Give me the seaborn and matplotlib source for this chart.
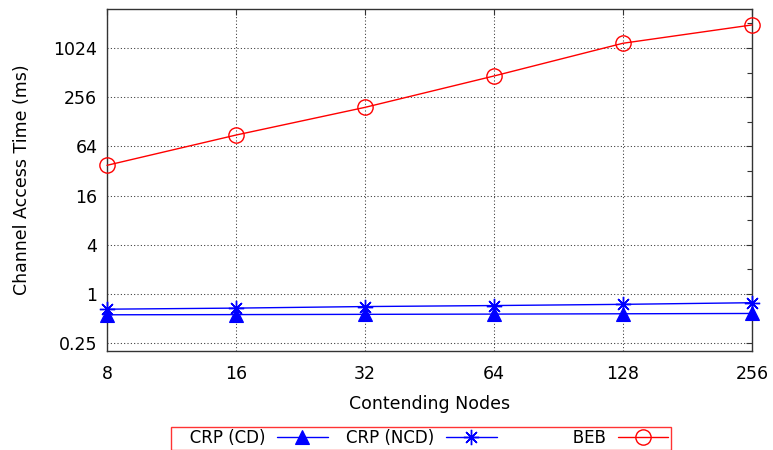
import numpy as np
import pandas as pd
import matplotlib
matplotlib.use("Agg")
import matplotlib.pyplot as plt
import seaborn as sns
from matplotlib.ticker import FixedLocator, FixedFormatter, NullFormatter

# ---- data ----
nodes = [8, 16, 32, 64, 128, 256]
crp_cd = [0.555, 0.558, 0.562, 0.566, 0.571, 0.576]
crp_ncd = [0.65, 0.67, 0.70, 0.72, 0.745, 0.78]
beb = [37.5, 88, 192, 465, 1170, 1960]

x_ticks = [8, 16, 32, 64, 128, 256]
x_tick_labels = ["8", "16", "32", "64", "128", "256"]
y_ticks = [0.25, 1, 4, 16, 64, 256, 1024]
y_tick_labels = ["0.25", "1", "4", "16", "64", "256", "1024"]
y_minor = [0.5, 2, 8, 32, 128, 512, 2048]

series_names = ["CRP (CD)", "CRP (NCD)", "BEB"]
legend_labels = ["   CRP (CD)", "CRP (NCD)", "           BEB"]

df = pd.DataFrame({
    "nodes": nodes * 3,
    "time": crp_cd + crp_ncd + beb,
    "series": [series_names[0]] * len(nodes) + [series_names[1]] * len(nodes) + [series_names[2]] * len(nodes),
})

sns.set_style("white")
plt.rcParams["font.family"] = ["DejaVu Sans"]
plt.rcParams["text.color"] = "black"
plt.rcParams["axes.labelcolor"] = "black"

fig = plt.figure(figsize=(7.73, 4.5), dpi=100)
ax = fig.add_axes([107 / 773, 1 - 351 / 450, (752 - 107) / 773, (351 - 9) / 450])

styles = {
    "CRP (CD)": dict(color="#0000ff", marker="^", markersize=10, markeredgewidth=0.8,
                     markerfacecolor="#0000ff", markeredgecolor="#0000ff"),
    "CRP (NCD)": dict(color="#0000ff", marker=(8, 2, 0), markersize=11, markeredgewidth=1.0,
                      markerfacecolor="#0000ff", markeredgecolor="#0000ff"),
    "BEB": dict(color="#ff0000", marker="o", markersize=11, markeredgewidth=1.0,
                markerfacecolor="none", markeredgecolor="#ff0000"),
}

handles = []
for name in series_names:
    sub = df[df["series"] == name]
    st = styles[name]
    sns.lineplot(data=sub, x="nodes", y="time", ax=ax, legend=False,
                 color=st["color"], linewidth=1.0, marker=st["marker"],
                 markersize=st["markersize"], markeredgewidth=st["markeredgewidth"],
                 markerfacecolor=st["markerfacecolor"], markeredgecolor=st["markeredgecolor"],
                 clip_on=False, zorder=3)
    handles.append(ax.lines[-1])

ax.set_xscale("log", base=2)
ax.set_yscale("log", base=2)
ax.set_xlim(8, 256)
ax.set_ylim(0.2, 3072)

ax.xaxis.set_major_locator(FixedLocator(x_ticks))
ax.xaxis.set_major_formatter(FixedFormatter(x_tick_labels))
ax.xaxis.set_minor_locator(FixedLocator([]))
ax.yaxis.set_major_locator(FixedLocator(y_ticks))
ax.yaxis.set_major_formatter(FixedFormatter(y_tick_labels))
ax.yaxis.set_minor_locator(FixedLocator(y_minor))
ax.yaxis.set_minor_formatter(NullFormatter())

ax.tick_params(axis="both", which="both", direction="in", top=True, right=True,
               colors="#333333", labelcolor="black", labelsize=12.5)
ax.tick_params(axis="both", which="major", length=4.5, width=0.8)
ax.tick_params(axis="both", which="minor", length=3.5, width=0.8)
ax.tick_params(axis="x", which="major", pad=10)
ax.tick_params(axis="y", which="major", pad=7)

ax.grid(True, which="major", axis="both", color="#333333", linestyle=(0, (1, 2.2)), linewidth=0.75)
ax.set_axisbelow(True)
for sp in ax.spines.values():
    sp.set_color("#333333")
    sp.set_linewidth(1.0)

ax.set_xlabel("Contending Nodes", fontsize=12.5, labelpad=9, color="black")
ax.set_ylabel("Channel Access Time (ms)", fontsize=12.5, labelpad=16, color="black")

leg = fig.legend(handles, legend_labels, loc="center", bbox_to_anchor=(421 / 773, 1 - 438 / 450),
                 ncol=3, markerfirst=False, fontsize=12, frameon=True, fancybox=False,
                 borderpad=0.15, handlelength=3.05, handletextpad=0.7, columnspacing=1.1,
                 borderaxespad=0, labelcolor="black")
leg.get_frame().set_edgecolor("#ff0000")
leg.get_frame().set_linewidth(1.0)
leg.get_frame().set_facecolor("white")

fig.savefig("out.png", dpi=100)
